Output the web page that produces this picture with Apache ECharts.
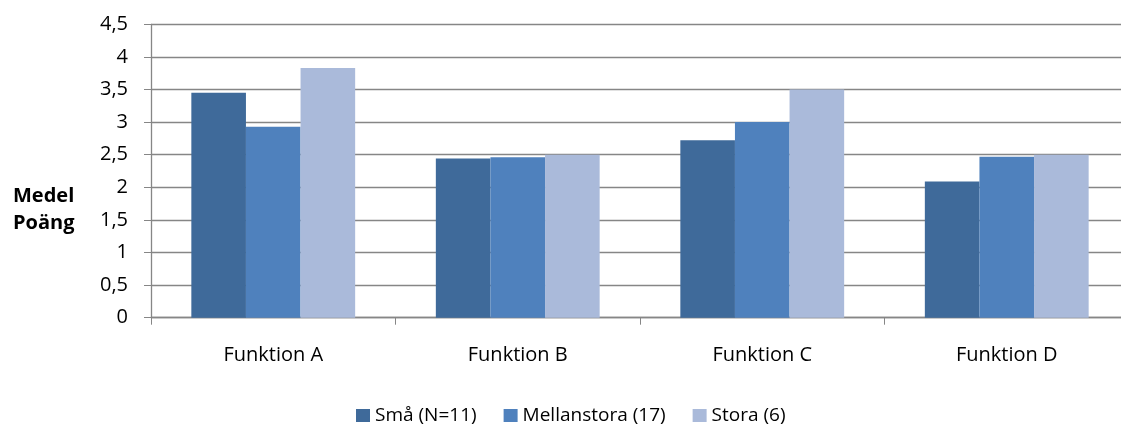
<!DOCTYPE html>
<html>
<head>
<meta charset="utf-8">
<script src="https://cdn.jsdelivr.net/npm/echarts@6/dist/echarts.min.js"></script>
<style>html,body{margin:0;padding:0;background:#fff;}#c{width:1121px;height:427px;}</style>
</head>
<body>
<div id="c"></div>
<script>
const categories = ['Funktion A', 'Funktion B', 'Funktion C', 'Funktion D'];
const seriesNames = ['Små (N=11)', 'Mellanstora (17)', 'Stora (6)'];
const smaValues = [3.45, 2.44, 2.72, 2.09];
const mellanValues = [2.93, 2.46, 3.0, 2.47];
const storaValues = [3.83, 2.5, 3.5, 2.5];
const yTickLabels = ['0', '0,5', '1', '1,5', '2', '2,5', '3', '3,5', '4', '4,5'];
const colors = ['#3F6A9A', '#4F81BD', '#AABADA'];
const FONT = '"Open Sans", "Noto Sans", sans-serif';

const chart = echarts.init(document.getElementById('c'), null, {renderer: 'canvas'});
const mk = (name, data, i) => ({
  name, type: 'bar', data, barGap: '0%', barCategoryGap: '33%',
  itemStyle: {color: colors[i]}, emphasis: {disabled: true}, silent: true
});
chart.setOption({
  animation: false,
  backgroundColor: '#fff',
  textStyle: {fontFamily: FONT},
  grid: {left: 151, top: 24.3, bottom: 109.3, width: 978, containLabel: false, outerBoundsMode: 'none'},
  legend: {
    data: seriesNames, top: 406, left: 356, padding: 0, itemWidth: 14, itemHeight: 13, itemGap: 27,
    textStyle: {fontFamily: FONT, fontSize: 19, color: '#000'},
    icon: 'rect'
  },
  xAxis: {
    type: 'category', data: categories,
    axisLine: {lineStyle: {color: '#868686', width: 1.3}},
    axisTick: {show: true, length: 7, lineStyle: {color: '#868686'}},
    axisLabel: {fontFamily: FONT, fontSize: 20, color: '#000', margin: 28}
  },
  yAxis: {
    type: 'value', min: 0, max: 4.5, interval: 0.5,
    axisLine: {show: true, lineStyle: {color: '#868686', width: 1.3}},
    axisTick: {show: true, length: 7, lineStyle: {color: '#868686'}},
    splitLine: {lineStyle: {color: '#868686', width: 1.3}},
    axisLabel: {fontFamily: FONT, fontSize: 20, color: '#000', margin: 23,
      formatter: v => yTickLabels[Math.round(v * 2)]}
  },
  graphic: [{
    type: 'text', left: 13, top: 183,
    style: {text: 'Medel\nPoäng', font: 'bold 20px ' + FONT, fill: '#000', lineHeight: 27, textAlign: 'left'}
  }],
  series: [mk(seriesNames[0], smaValues, 0), mk(seriesNames[1], mellanValues, 1), mk(seriesNames[2], storaValues, 2)]
});
</script>
</body>
</html>
